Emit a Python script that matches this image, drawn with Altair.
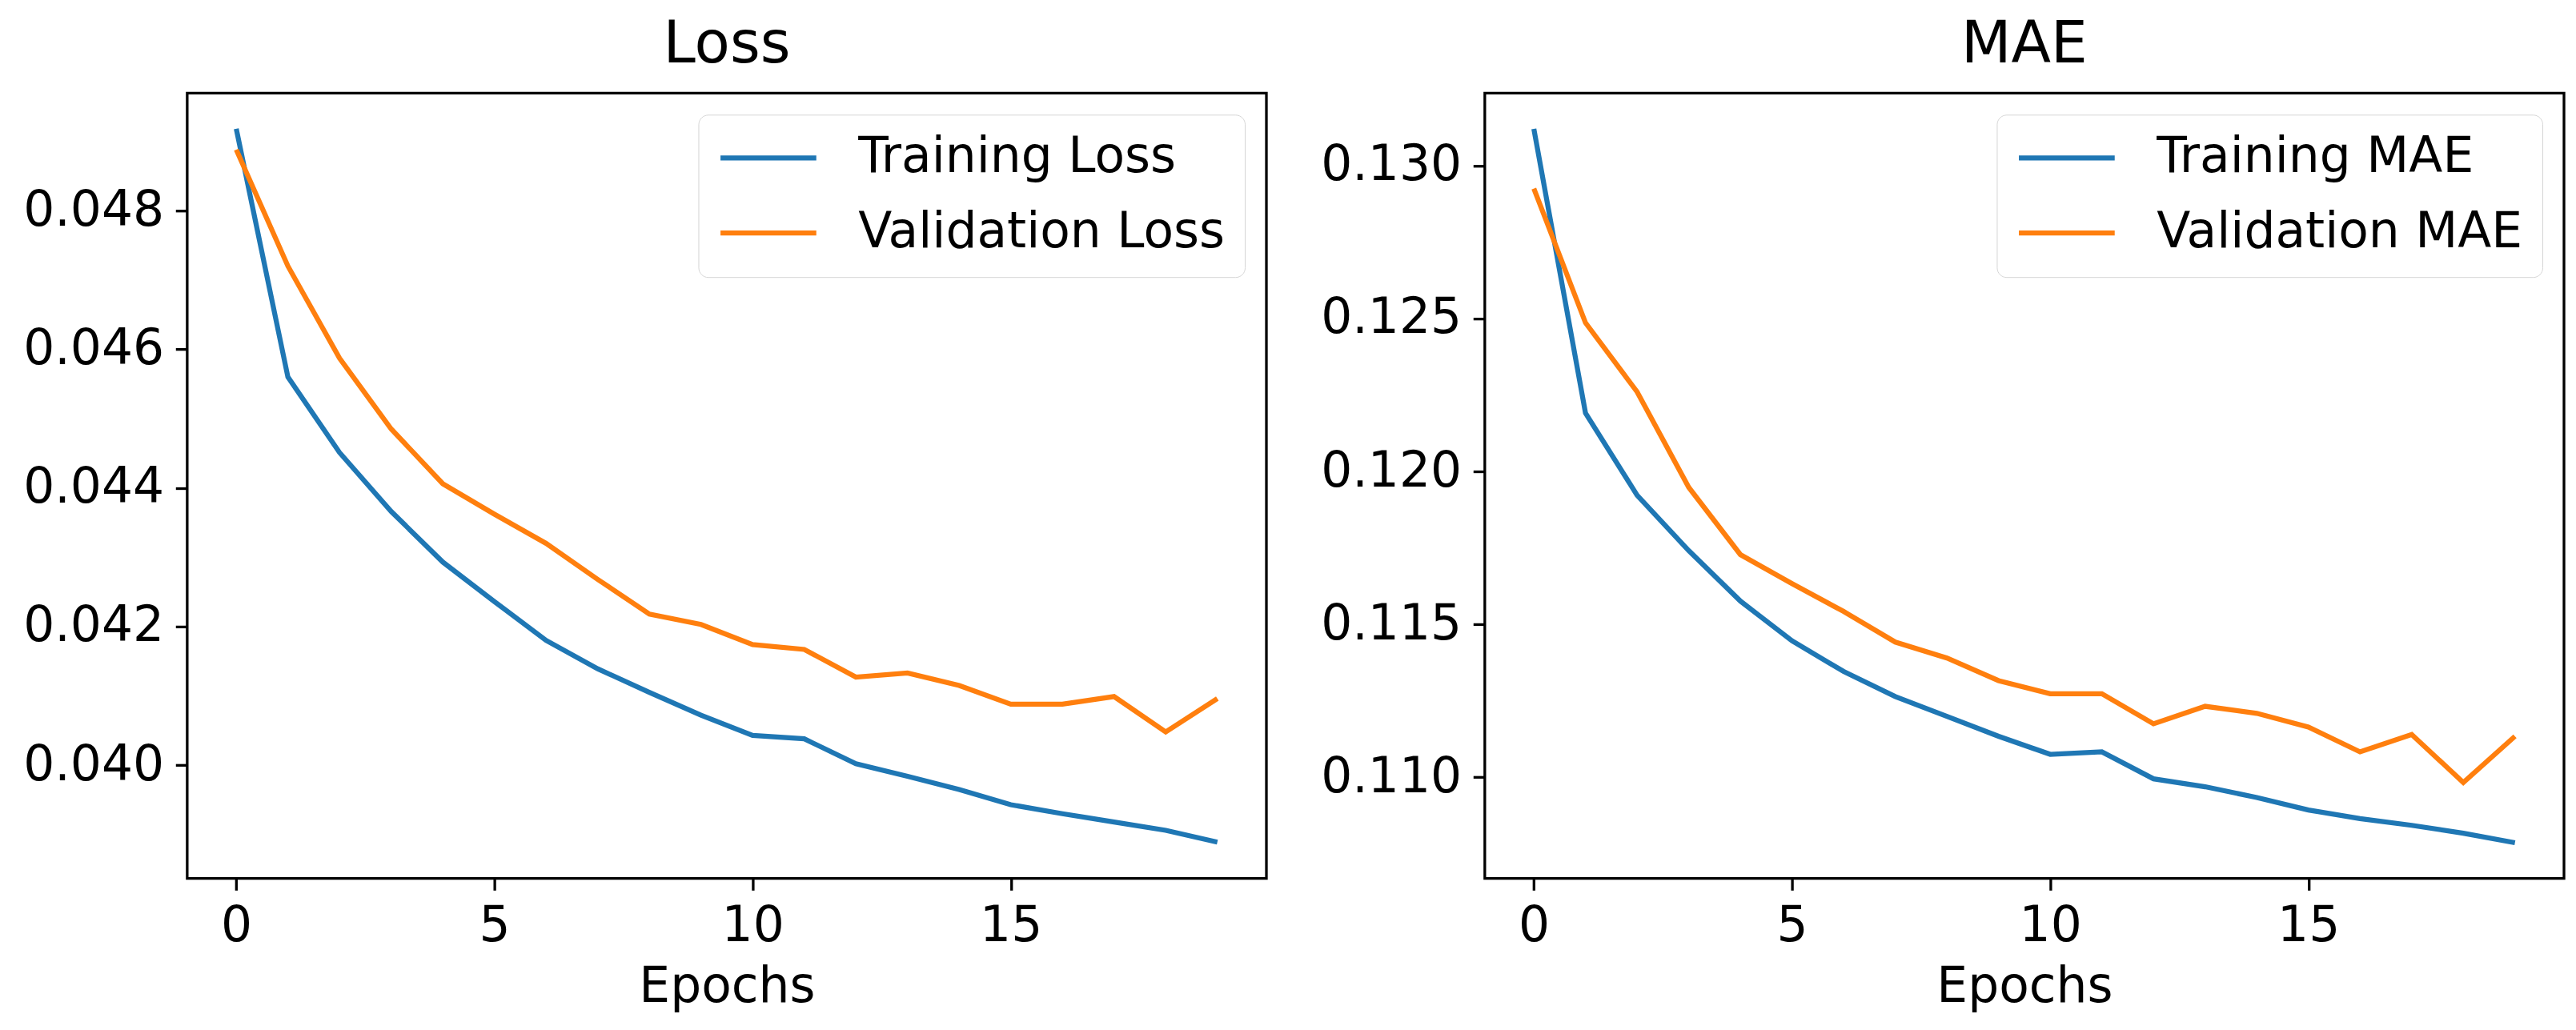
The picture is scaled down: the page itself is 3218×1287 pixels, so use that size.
import altair as alt
import pandas as pd

epochs = list(range(20))

train_loss = [0.04918, 0.04560, 0.04451, 0.04366, 0.04293, 0.04236, 0.04180, 0.04139, 0.04105, 0.04072,
              0.04043, 0.04038, 0.04002, 0.03984, 0.03965, 0.03943, 0.03930, 0.03918, 0.03906, 0.03889]
val_loss = [0.04888, 0.04720, 0.04587, 0.04485, 0.04406, 0.04362, 0.04320, 0.04268, 0.04218, 0.04203,
            0.04174, 0.04167, 0.04127, 0.04133, 0.04115, 0.04088, 0.04088, 0.04099, 0.04048, 0.04096]
train_mae = [0.13120, 0.12191, 0.11922, 0.11741, 0.11576, 0.11446, 0.11346, 0.11264, 0.11199, 0.11134,
             0.11075, 0.11083, 0.10995, 0.10969, 0.10934, 0.10893, 0.10865, 0.10843, 0.10817, 0.10786]
val_mae = [0.12925, 0.12486, 0.12260, 0.11948, 0.11728, 0.11633, 0.11542, 0.11442, 0.11390, 0.11316,
           0.11273, 0.11273, 0.11175, 0.11232, 0.11209, 0.11164, 0.11083, 0.11140, 0.10983, 0.11134]

loss_names = ["Training Loss", "Validation Loss"]
mae_names = ["Training MAE", "Validation MAE"]
loss_ticks = [0.040, 0.042, 0.044, 0.046, 0.048]
mae_ticks = [0.110, 0.115, 0.120, 0.125, 0.130]
x_ticks = [0, 5, 10, 15]
colors = ["#1f77b4", "#ff7f0e"]

FONT = "DejaVu Sans"
FS = 61.5


def long_df(names, series):
    rows = []
    for name, vals in zip(names, series):
        for e, v in zip(epochs, vals):
            rows.append({"epoch": e, "value": v, "series": name})
    return pd.DataFrame(rows)


def panel(title, names, series, ydomain, yticks):
    df = long_df(names, series)
    return alt.Chart(df, title=alt.Title(title)).mark_line(strokeWidth=6.25).encode(
        x=alt.X("epoch:Q",
                scale=alt.Scale(domain=[-0.95, 19.95], nice=False, zero=False),
                axis=alt.Axis(values=x_ticks, title="Epochs", format="d", labelFlush=False)),
        y=alt.Y("value:Q",
                scale=alt.Scale(domain=ydomain, nice=False, zero=False),
                axis=alt.Axis(values=yticks, format=".3f", title=None, labelFlush=False)),
        color=alt.Color("series:N",
                        scale=alt.Scale(domain=names, range=colors),
                        legend=alt.Legend(title=None, orient="top-right", offset=27)),
        order=alt.Order("epoch:Q"),
    ).properties(width=1349, height=982)


left = panel("Loss", loss_names, [train_loss, val_loss], [0.038365, 0.049695], loss_ticks)
right = panel("MAE", mae_names, [train_mae, val_mae], [0.10669, 0.13237], mae_ticks)

chart = alt.hconcat(left, right, spacing=64).resolve_scale(
    color="independent", y="independent"
).resolve_legend(color="independent").properties(
    padding={"left": 19, "top": 9, "right": 5, "bottom": 5}
).configure_view(
    stroke="black", strokeWidth=3.3
).configure_axis(
    domain=False, grid=False, ticks=True, tickColor="black", tickSize=14.6, tickWidth=3.3,
    labelFont=FONT, labelFontSize=FS, labelColor="black", labelPadding=14.6,
    titleFont=FONT, titleFontSize=FS, titleFontWeight="normal", titleColor="black", titlePadding=14
).configure_title(
    font=FONT, fontSize=72.5, fontWeight="normal", color="black", anchor="middle",
    offset=23, baseline="alphabetic"
).configure_legend(
    labelFont=FONT, labelFontSize=FS, labelColor="black", labelLimit=2000,
    symbolType="stroke", symbolSize=14345, symbolStrokeWidth=6.25, labelOffset=49,
    clipHeight=60, rowPadding=32, padding=24, fillColor="white", strokeColor="#d5d5d5",
    cornerRadius=12, symbolOpacity=1
)

chart.save("out.html", embed_options={"renderer": "svg", "actions": False})
